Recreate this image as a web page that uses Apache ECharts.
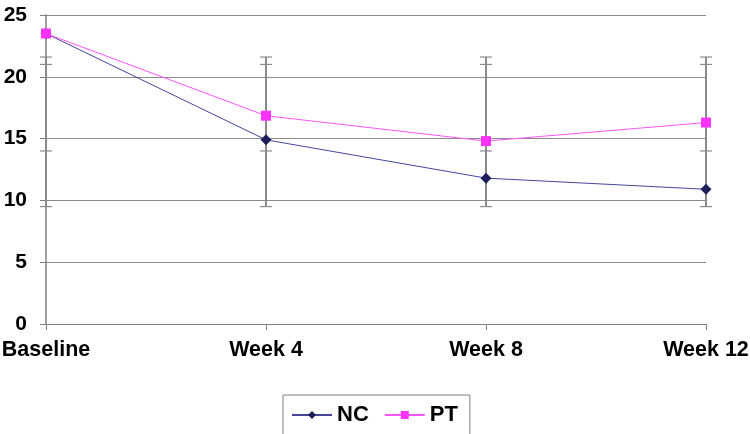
<!DOCTYPE html>
<html>
<head>
<meta charset="utf-8">
<style>html,body{margin:0;padding:0;background:#fff;}#c{width:750px;height:434px;}</style>
<script src="https://cdn.jsdelivr.net/npm/echarts@6/dist/echarts.min.js"></script>
</head>
<body>
<div id="c"></div>
<script>
const categories = ['Baseline', 'Week 4', 'Week 8', 'Week 12'];
const ncValues = [23.5, 14.9, 11.8, 10.9];
const ptValues = [23.5, 16.85, 14.8, 16.3];
// error bar cap levels per category
const errTop = [21.6, 21.6, 21.6, 21.6];
const errTop2 = [21.0, 21.0, 21.0, 21.0];
const errLow2 = [14.0, 14.0, 14.0, 14.0];
const errBottom = [9.5, 9.5, 9.5, 9.5];
const yTicks = [0, 5, 10, 15, 20, 25];

const errData = categories.map((c, i) => [i, errBottom[i], errLow2[i], errTop2[i], errTop[i]]);

const chart = echarts.init(document.getElementById('c'), null, {renderer: 'canvas'});
const fam = '"Liberation Sans", Arial, sans-serif';

chart.setOption({
  animation: false,
  backgroundColor: '#fff',
  grid: {left: 46, right: 44, top: 15, bottom: 110, containLabel: false, outerBoundsMode: 'none'},
  xAxis: {
    type: 'category',
    data: categories,
    boundaryGap: false,
    axisLine: {show: true, lineStyle: {color: '#808080', width: 1}},
    axisTick: {show: true, length: 6, lineStyle: {color: '#808080'}},
    axisLabel: {margin: 15, fontFamily: fam, fontWeight: 'bold', fontSize: 21.5, color: '#000'},
    splitLine: {show: false}
  },
  yAxis: {
    type: 'value',
    min: 0, max: 25, interval: 5,
    axisLine: {show: true, lineStyle: {color: '#808080', width: 1.5}},
    axisTick: {show: true, length: 6, lineStyle: {color: '#808080'}},
    axisLabel: {margin: 19, fontFamily: fam, fontWeight: 'bold', fontSize: 21, color: '#000',
      formatter: v => yTicks.includes(v) ? String(v) : ''},
    splitLine: {show: true, lineStyle: {color: '#8c8c8c', width: 1}}
  },
  legend: {
    data: ['NC', 'PT'],
    left: 283,
    top: 395,
    orient: 'horizontal',
    padding: [9, 12, 22, 8],
    itemWidth: 40,
    itemHeight: 10,
    itemGap: 15,
    borderColor: '#808080',
    borderWidth: 1,
    textStyle: {fontFamily: fam, fontWeight: 'bold', fontSize: 22, color: '#000'}
  },
  series: [
    {
      type: 'custom',
      name: 'err',
      data: errData,
      z: 1,
      silent: true,
      renderItem: function (params, api) {
        const x = api.value(0);
        const lows = [api.value(1), api.value(2), api.value(3), api.value(4)];
        const pts = lows.map(v => api.coord([x, v]));
        const px = pts[0][0];
        const children = [{
          type: 'line',
          shape: {x1: px, y1: pts[0][1], x2: px, y2: pts[3][1]},
          style: {stroke: '#8a8a8a', lineWidth: 2}
        }];
        pts.forEach(p => children.push({
          type: 'line',
          shape: {x1: px - 6, y1: p[1], x2: px + 6, y2: p[1]},
          style: {stroke: '#8a8a8a', lineWidth: 1.2}
        }));
        return {type: 'group', children: children};
      }
    },
    {
      name: 'NC',
      type: 'line',
      data: ncValues,
      z: 3,
      symbol: 'diamond',
      symbolSize: 11,
      itemStyle: {color: '#1e1e5a'},
      lineStyle: {color: '#4646a0', width: 1}
    },
    {
      name: 'PT',
      type: 'line',
      data: ptValues,
      z: 4,
      symbol: 'rect',
      symbolSize: 10,
      itemStyle: {color: '#ff33ff'},
      lineStyle: {color: '#ff55ff', width: 1}
    }
  ]
});
</script>
</body>
</html>
